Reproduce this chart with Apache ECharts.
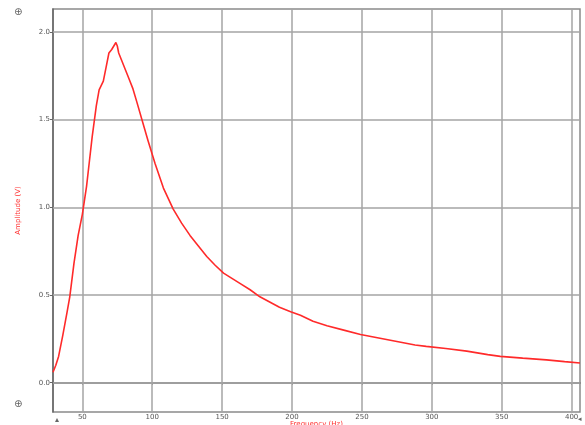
<!DOCTYPE html>
<html>
<head>
<meta charset="utf-8">
<script src="https://cdn.jsdelivr.net/npm/echarts@6/dist/echarts.min.js"></script>
<style>
  html, body { margin: 0; padding: 0; background: #fff; }
  #chart { width: 585px; height: 425px; }
</style>
</head>
<body>
<div id="chart"></div>
<script>
// Frequency response sweep: amplitude against drive frequency
const freqHz = [29, 31, 33, 36, 39, 41, 44, 47, 50, 53, 55, 57, 60, 62, 65, 67, 69, 71, 72, 74,
  75, 76, 78, 79, 81, 83, 86, 89, 93, 97, 102, 108, 115, 121, 127, 133, 139, 145, 151, 157,
  163, 170, 177, 184, 191, 199, 206, 215, 225, 237, 249, 262, 275, 288, 296, 310, 325, 340,
  349, 365, 382, 395, 406];
const amplitudeV = [0.06, 0.10, 0.15, 0.27, 0.40, 0.49, 0.68, 0.84, 0.96, 1.12, 1.26, 1.40, 1.58,
  1.67, 1.72, 1.80, 1.88, 1.90, 1.91, 1.94, 1.92, 1.88, 1.84, 1.83, 1.78, 1.74, 1.68, 1.60,
  1.49, 1.38, 1.25, 1.11, 0.99, 0.91, 0.84, 0.78, 0.72, 0.67, 0.625, 0.595, 0.565, 0.53, 0.49,
  0.46, 0.43, 0.405, 0.385, 0.35, 0.325, 0.30, 0.275, 0.255, 0.235, 0.215, 0.207, 0.195, 0.18,
  0.16, 0.15, 0.14, 0.13, 0.12, 0.112];
const xTicks = [50, 100, 150, 200, 250, 300, 350, 400];
const yTicks = [0, 0.5, 1.0, 1.5, 2.0];
const xRange = [29, 406];
const yRange = [-0.167, 2.131];

const gridColor = '#a4a4a4';
const tickFont = { fontSize: 7, color: '#555', fontFamily: 'DejaVu Sans' };

const chart = echarts.init(document.getElementById('chart'), null, { renderer: 'canvas' });

const gridLines = [
  ...xTicks.map(v => ({ xAxis: v })),
  ...yTicks.map(v => ({ yAxis: v }))
];

chart.setOption({
  animation: false,
  backgroundColor: '#fff',
  grid: {
    left: 53, right: 5, top: 9, bottom: 13,
    containLabel: false,
    outerBoundsMode: 'none',
    show: true, borderColor: '#8a8a8a', borderWidth: 1.5
  },
  xAxis: {
    type: 'value',
    min: xRange[0], max: xRange[1],
    name: 'Frequency (Hz)',
    nameLocation: 'middle',
    nameGap: 9,
    nameMoveOverlap: false,
    nameTextStyle: { color: '#ff3030', fontSize: 7, fontFamily: 'DejaVu Sans', verticalAlign: 'top' },
    axisLine: { show: true, lineStyle: { color: '#666', width: 1.5 } },
    axisTick: { show: true, length: 2, customValues: xTicks, lineStyle: { color: '#666' } },
    axisLabel: { ...tickFont, margin: 2, customValues: xTicks, formatter: v => String(v) },
    splitLine: { show: false }
  },
  yAxis: {
    type: 'value',
    min: yRange[0], max: yRange[1],
    name: 'Amplitude (V)',
    nameLocation: 'middle',
    nameGap: 31,
    nameRotate: 90,
    nameMoveOverlap: false,
    nameTextStyle: { color: '#ff3030', fontSize: 7, fontFamily: 'DejaVu Sans' },
    axisLine: { show: true, lineStyle: { color: '#666', width: 1.5 } },
    axisTick: { show: true, length: 3, customValues: yTicks, lineStyle: { color: '#666' } },
    axisLabel: { ...tickFont, margin: 3, customValues: yTicks, formatter: v => v.toFixed(1) },
    splitLine: { show: false }
  },
  graphic: [
    // small scale-lock glyphs at the axis corners
    { type: 'text', left: 14, top: 7, style: { text: '⊕', fontSize: 10, fill: '#666', fontFamily: 'DejaVu Sans' } },
    { type: 'text', left: 14, top: 399, style: { text: '⊕', fontSize: 10, fill: '#666', fontFamily: 'DejaVu Sans' } },
    { type: 'text', left: 55, top: 416, style: { text: '▴', fontSize: 8, fill: '#666', fontFamily: 'DejaVu Sans' } },
    { type: 'text', left: 578, top: 416, style: { text: '◂', fontSize: 7, fill: '#666', fontFamily: 'DejaVu Sans' } }
  ],
  series: [{
    type: 'line',
    data: freqHz.map((f, i) => [f, amplitudeV[i]]),
    showSymbol: false,
    smooth: false,
    lineStyle: { color: '#ff2a2a', width: 1.6 },
    z: 5,
    markLine: {
      silent: true,
      symbol: 'none',
      label: { show: false },
      lineStyle: { color: gridColor, width: 1.5, type: 'solid' },
      z: 1,
      data: gridLines
    }
  }]
});
</script>
</body>
</html>
